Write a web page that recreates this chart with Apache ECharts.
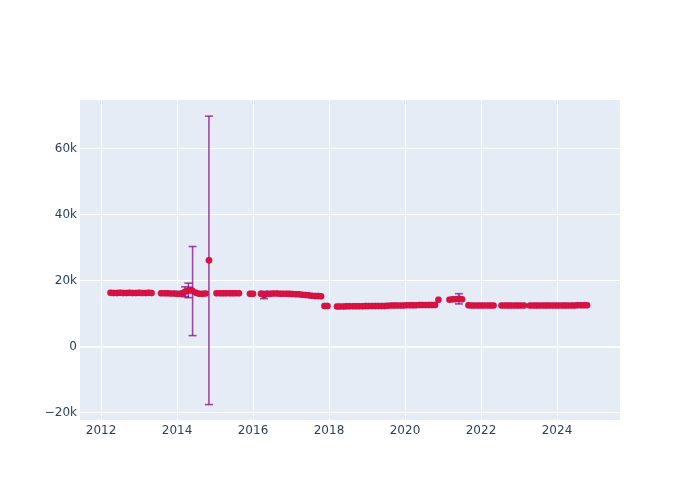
<!DOCTYPE html>
<html>
<head>
<meta charset="utf-8">
<script src="https://cdn.jsdelivr.net/npm/echarts@6/dist/echarts.min.js"></script>
<style>html,body{margin:0;padding:0;background:#fff}#c{width:700px;height:500px}</style>
</head>
<body>
<div id="c"></div>
<script>
// Decimal-year positions of the points
const years = [
  2012.25, 2012.33, 2012.42, 2012.50, 2012.58, 2012.67, 2012.75, 2012.83, 2012.92, 2013.00, 2013.08, 2013.17, 2013.25, 2013.33,
  2013.58, 2013.67, 2013.75, 2013.83, 2013.92, 2014.00, 2014.08, 2014.15, 2014.21, 2014.30, 2014.36, 2014.41, 2014.50, 2014.58, 2014.67, 2014.75,
  2014.84,
  2015.04, 2015.13, 2015.21, 2015.29, 2015.38, 2015.46, 2015.54, 2015.63,
  2015.92, 2016.00,
  2016.21, 2016.29, 2016.38, 2016.46, 2016.54, 2016.63, 2016.71, 2016.79, 2016.88, 2016.96, 2017.04, 2017.13, 2017.21, 2017.29, 2017.38, 2017.46, 2017.54, 2017.63, 2017.71, 2017.79,
  2017.88, 2017.96,
  2018.21, 2018.29, 2018.38, 2018.46, 2018.54, 2018.63, 2018.71, 2018.79, 2018.88, 2018.96, 2019.04, 2019.13, 2019.21, 2019.29, 2019.38, 2019.46,
  2019.54, 2019.63, 2019.71, 2019.79, 2019.88, 2019.96, 2020.04, 2020.13, 2020.21, 2020.29, 2020.38, 2020.46, 2020.54, 2020.63, 2020.71, 2020.79,
  2020.88,
  2021.17, 2021.25, 2021.33, 2021.42, 2021.50,
  2021.67, 2021.75, 2021.83, 2021.92, 2022.00, 2022.08, 2022.17, 2022.25, 2022.33,
  2022.54, 2022.63, 2022.71, 2022.79, 2022.88, 2022.96, 2023.04, 2023.13,
  2023.29, 2023.38, 2023.46, 2023.54, 2023.63, 2023.71, 2023.79, 2023.88, 2023.96, 2024.04, 2024.13, 2024.21, 2024.29, 2024.38, 2024.46, 2024.54, 2024.63, 2024.71, 2024.79
];
const values = [
  16250, 16200, 16200, 16250, 16200, 16200, 16250, 16200, 16200, 16250, 16200, 16200, 16250, 16200,
  16100, 16100, 16100, 16050, 16050, 16000, 16000, 16100, 16600, 17000, 17200, 16800, 16300, 16000, 16000, 16050,
  26100,
  16150, 16100, 16100, 16150, 16100, 16100, 16100, 16100,
  16000, 16000,
  16000, 15600, 16000, 16000, 16050, 16050, 16000, 16000, 16000, 15950, 15900, 15850, 15800, 15700, 15600, 15500, 15400, 15300, 15300, 15200,
  12300, 12300,
  12150, 12150, 12150, 12200, 12200, 12200, 12200, 12200, 12200, 12250, 12250, 12250, 12250, 12300, 12300, 12300,
  12350, 12400, 12400, 12450, 12450, 12450, 12500, 12500, 12500, 12500, 12550, 12550, 12550, 12600, 12600, 12600,
  14200,
  14200, 14300, 14300, 14450, 14300,
  12500, 12400, 12400, 12400, 12400, 12400, 12400, 12400, 12400,
  12400, 12400, 12400, 12400, 12400, 12400, 12400, 12400,
  12400, 12400, 12400, 12400, 12400, 12400, 12400, 12400, 12400, 12400, 12400, 12400, 12450, 12450, 12450, 12500, 12500, 12500, 12500
];
// Points that carry visible error bars
const errYears  = [2014.21, 2014.30, 2014.41, 2014.84, 2016.29, 2021.42];
const errValues = [16600, 17000, 16800, 26100, 15600, 14450];
const errSizes  = [1500, 2200, 13500, 43700, 1100, 1550];
// Tick values
const xTicks = [2012, 2014, 2016, 2018, 2020, 2022, 2024];
const yTicks = [-20000, 0, 20000, 40000, 60000];

const pointData = years.map((x, i) => [x, values[i]]);
const errData = errYears.map((x, i) => [x, errValues[i], errSizes[i]]);

const errColor = 'rgba(128,0,128,0.7)';
function renderErr(params, api) {
  const x = api.value(0), y = api.value(1), e = api.value(2);
  const t = api.coord([x, y + e]);
  const b = api.coord([x, y - e]);
  const w = 4;
  const st = { stroke: errColor, lineWidth: 1.6 };
  return {
    type: 'group',
    children: [
      { type: 'line', shape: { x1: t[0], y1: t[1], x2: b[0], y2: b[1] }, style: st },
      { type: 'line', shape: { x1: t[0] - w, y1: t[1], x2: t[0] + w, y2: t[1] }, style: st },
      { type: 'line', shape: { x1: b[0] - w, y1: b[1], x2: b[0] + w, y2: b[1] }, style: st }
    ]
  };
}

const chart = echarts.init(document.getElementById('c'), null, { renderer: 'canvas' });
const font = { fontFamily: '"DejaVu Sans", Verdana, sans-serif', fontSize: 12, color: '#2a3f5f' };
chart.setOption({
  animation: false,
  backgroundColor: '#ffffff',
  grid: { left: 80, right: 80, top: 100, bottom: 80, show: true, backgroundColor: '#E5ECF6', borderWidth: 0, containLabel: false },
  xAxis: {
    type: 'value',
    min: 2011.447, max: 2025.658,
    axisLine: { show: false },
    axisTick: { show: false, customValues: xTicks },
    axisLabel: Object.assign({ customValues: xTicks, margin: 5, formatter: v => String(Math.round(v)) }, font),
    splitLine: { show: true, lineStyle: { color: '#ffffff', width: 1 } }
  },
  yAxis: {
    type: 'value',
    min: -22273, max: 74697,
    axisLine: { show: false },
    axisTick: { show: false, customValues: yTicks },
    axisLabel: Object.assign({
      customValues: yTicks, margin: 3,
      formatter: v => v === 0 ? '0' : (v < 0 ? '\u2212' : '') + Math.abs(v / 1000) + 'k'
    }, font),
    splitLine: { show: true, lineStyle: { color: '#ffffff', width: 1 } }
  },
  series: [
    {
      type: 'line',
      data: [],
      z: 1,
      silent: true,
      markLine: {
        silent: true, symbol: 'none', label: { show: false }, z: 1,
        lineStyle: { color: '#ffffff', width: 2, type: 'solid' },
        data: [{ yAxis: 0 }]
      }
    },
    {
      type: 'custom',
      renderItem: renderErr,
      data: errData,
      encode: { x: 0, y: 1 },
      z: 2,
      silent: true
    },
    {
      type: 'scatter',
      data: pointData,
      symbol: 'circle',
      symbolSize: 6.5,
      z: 3,
      itemStyle: { color: '#DC143C', borderColor: 'rgba(128,0,128,0.35)', borderWidth: 0.5, opacity: 1 }
    }
  ]
});
</script>
</body>
</html>
